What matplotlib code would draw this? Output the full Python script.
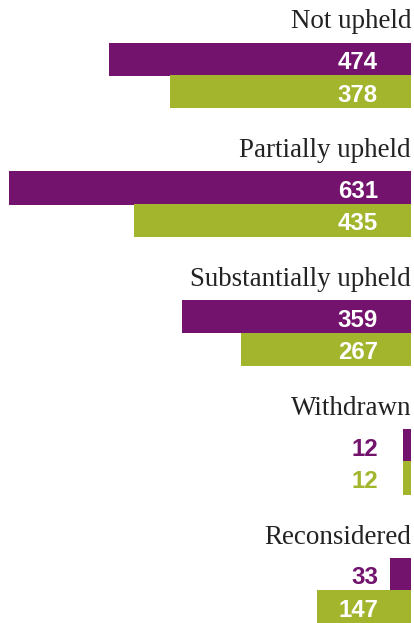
import matplotlib
matplotlib.use("Agg")
import matplotlib.pyplot as plt

title = "Outcomes"
categories = ["Not upheld", "Partially upheld", "Substantially upheld", "Withdrawn", "Reconsidered"]
series_a = [474, 631, 359, 12, 33]   # purple
series_b = [378, 435, 267, 12, 147]  # green

PURPLE = "#73136e"
GREEN = "#a2b52d"

DPI = 72
W, H = 414, 623
fig = plt.figure(figsize=(W / DPI, H / DPI), dpi=DPI)
ax = fig.add_axes([0, 0, 1, 1])

px_per_unit = 402 / max(series_a + series_b)
right_px = 411
ax.set_xlim(right_px / px_per_unit, -(W - right_px) / px_per_unit)
ax.set_ylim(H, 0)
ax.axis("off")

first_top = 43
group_step = 128.75
bar_h = 32.5
label_offset_px = 33  # value labels' right edge distance from bar base

label_x = label_offset_px / px_per_unit
for i, cat in enumerate(categories):
    top = first_top + i * group_step
    ax.text(0, top - 14.5, cat, ha="right", va="baseline",
            fontsize=27, family="Liberation Serif", color="#222222")
    for j, (vals, col) in enumerate(((series_a, PURPLE), (series_b, GREEN))):
        v = vals[i]
        yc = top + bar_h / 2 + j * bar_h
        ax.barh(yc, v, height=bar_h + 0.6, left=0, color=col, linewidth=0)
        inside = v * px_per_unit > label_offset_px + 45
        ax.text(label_x, yc + 10, str(v), ha="right", va="baseline",
                fontsize=24, fontweight="bold", family="Liberation Sans",
                color="white" if inside else col)

fig.text(5 / W, 1 - 0.3 / H, title, ha="left", va="baseline",
         fontsize=26, color="#888888", family="Liberation Sans")

fig.savefig("out.png", dpi=DPI)
